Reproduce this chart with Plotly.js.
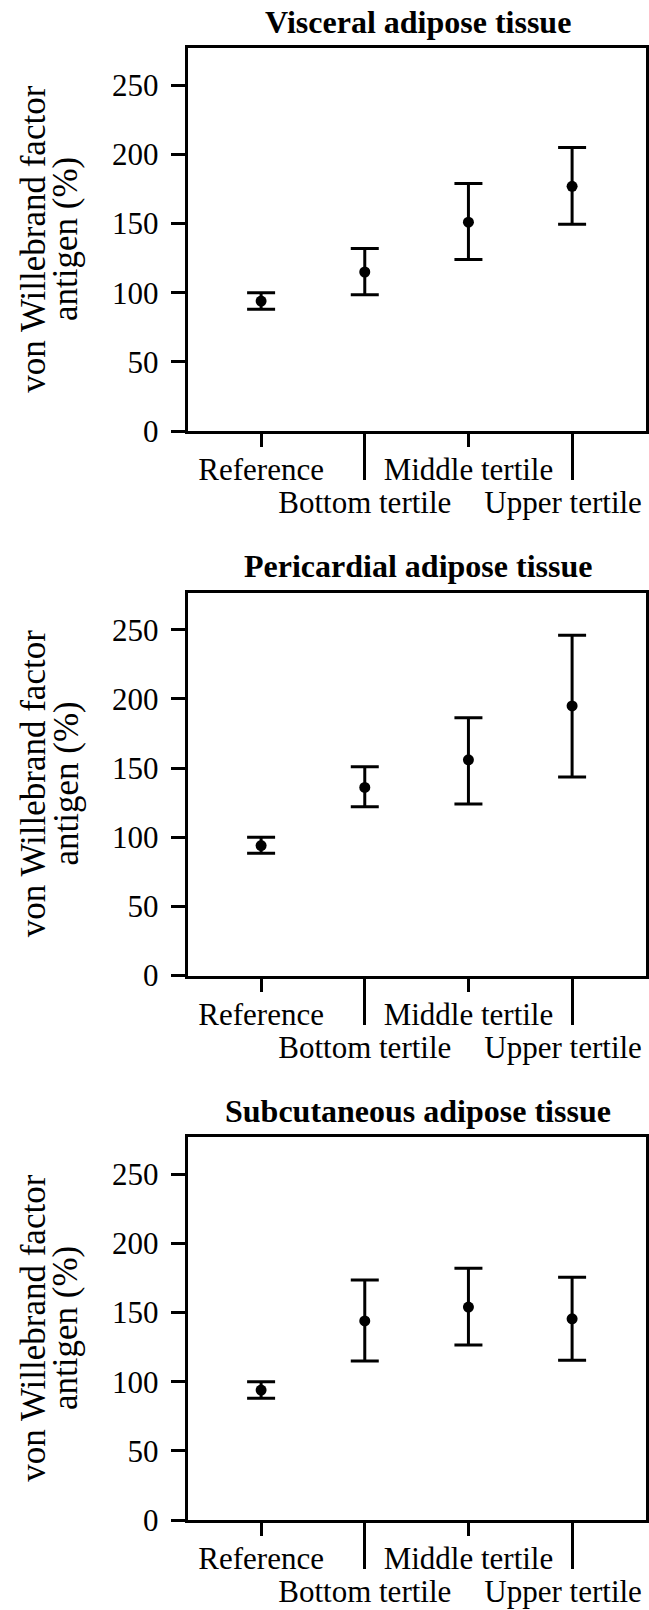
<!DOCTYPE html>
<html>
<head>
<meta charset="utf-8">
<script src="https://cdn.plot.ly/plotly-3.0.1.min.js"></script>
<style>html,body{margin:0;padding:0;background:#fff;}#chart{width:649px;height:1610px;}</style>
</head>
<body>
<div id="chart"></div>
<script>
// ---- data ----
const categories = ["Reference", "Bottom tertile", "Middle tertile", "Upper tertile"];
const panelTitles = ["Visceral adipose tissue", "Pericardial adipose tissue", "Subcutaneous adipose tissue"];
const yTitleLine1 = "von Willebrand factor";
const yTitleLine2 = "antigen (%)";
const yTickVals = [0, 50, 100, 150, 200, 250];

const visceralMean  = [94, 115, 151, 177];
const visceralUpper = [100, 132, 179, 205];
const visceralLower = [88, 98.5, 124, 149.5];

const pericardialMean  = [94, 136, 156, 195];
const pericardialUpper = [100, 151, 186.5, 246];
const pericardialLower = [88.5, 122, 124, 143.5];

const subcutaneousMean  = [94, 144, 154, 145.5];
const subcutaneousUpper = [100, 173.5, 182, 175.5];
const subcutaneousLower = [88, 115, 126.5, 115.5];

const panels = [
  {mean: visceralMean, upper: visceralUpper, lower: visceralLower},
  {mean: pericardialMean, upper: pericardialUpper, lower: pericardialLower},
  {mean: subcutaneousMean, upper: subcutaneousUpper, lower: subcutaneousLower}
];

// ---- layout geometry ----
const W = 649, H = 1610;
const pitch = 544.5, plotTop = 48, plotBottom = 431;
const xDom = [187.5 / W, 645.7 / W];
const FONT = "'Liberation Serif', 'Times New Roman', serif";
const TICK_FS = 31;

const catIdx = categories.map((c, i) => i);
const evenIdx = catIdx.filter(i => i % 2 === 0);
const oddIdx = catIdx.filter(i => i % 2 === 1);

const data = [];
const layout = {
  width: W, height: H,
  margin: {l: 0, r: 0, t: 0, b: 0},
  paper_bgcolor: "#fff", plot_bgcolor: "#fff",
  showlegend: false,
  font: {family: FONT, color: "#000", size: TICK_FS},
  annotations: []
};

let nextAxis = 4;
panels.forEach((p, k) => {
  const n = k + 1;
  const xa = "x" + (n === 1 ? "" : n);
  const ya = "y" + (n === 1 ? "" : n);
  const top = plotTop + k * pitch, bot = plotBottom + k * pitch;
  const yDom = [1 - bot / H, 1 - top / H];

  data.push({
    type: "scatter", mode: "markers",
    x: catIdx, y: p.mean,
    xaxis: xa, yaxis: ya,
    marker: {color: "#000", size: 11},
    error_y: {
      type: "data", symmetric: false,
      array: p.upper.map((u, i) => u - p.mean[i]),
      arrayminus: p.lower.map((l, i) => p.mean[i] - l),
      color: "#000", thickness: 3, width: 14
    },
    hoverinfo: "skip"
  });

  const axName = n === 1 ? "xaxis" : "xaxis" + n;
  const ayName = n === 1 ? "yaxis" : "yaxis" + n;
  layout[axName] = {
    domain: xDom, anchor: ya, range: [-0.71, 3.71],
    tickmode: "array", tickvals: evenIdx, ticktext: evenIdx.map(i => categories[i]),
    ticks: "outside", ticklen: 13, tickwidth: 3, tickcolor: "#000",
    ticklabelstandoff: -4,
    showline: true, mirror: true, linewidth: 3, linecolor: "#000",
    showgrid: false, zeroline: false,
    tickfont: {family: FONT, size: TICK_FS, color: "#000"}
  };
  // second-row labels: one overlaid axis per odd category (long ticks)
  oddIdx.forEach((ci, j) => {
    const num = nextAxis++;
    data.push({
      type: "scatter", mode: "none",
      x: catIdx, y: p.mean,
      xaxis: "x" + num, yaxis: ya, hoverinfo: "skip"
    });
    layout["xaxis" + num] = {
      overlaying: xa, anchor: ya, side: "bottom", range: [-0.71, 3.71],
      tickmode: "array", tickvals: [ci], ticktext: [categories[ci]],
      ticks: "outside", ticklen: 48, tickwidth: 3, tickcolor: "#000",
      ticklabelstandoff: -4,
      ticklabelshift: (ci === catIdx.length - 1) ? -9 : 0,
      showline: false, showgrid: false, zeroline: false,
      tickfont: {family: FONT, size: TICK_FS, color: "#000"}
    };
  });
  layout[ayName] = {
    domain: yDom, anchor: xa, range: [0, 277],
    tickmode: "array", tickvals: yTickVals, ticktext: yTickVals.map(String),
    ticks: "outside", ticklen: 13.7, tickwidth: 3, tickcolor: "#000",
    ticklabelstandoff: 6,
    showline: true, mirror: true, linewidth: 3, linecolor: "#000",
    showgrid: false, zeroline: false,
    tickfont: {family: FONT, size: TICK_FS, color: "#000"}
  };

  const yMid = (yDom[0] + yDom[1]) / 2;
  layout.annotations.push({
    xref: "paper", yref: "paper", x: 418 / W, y: 1 - (21.9 + k * pitch) / H,
    xanchor: "center", yanchor: "middle", showarrow: false,
    text: "<b>" + panelTitles[k] + "</b>",
    font: {family: FONT, size: 32, color: "#000"}
  });
  layout.annotations.push({
    xref: "paper", yref: "paper", x: 33.2 / W, y: yMid,
    xanchor: "center", yanchor: "middle", showarrow: false, textangle: -90,
    text: yTitleLine1, font: {family: FONT, size: 35, color: "#000"}
  });
  layout.annotations.push({
    xref: "paper", yref: "paper", x: 65.5 / W, y: yMid,
    xanchor: "center", yanchor: "middle", showarrow: false, textangle: -90,
    text: yTitleLine2, font: {family: FONT, size: 35, color: "#000"}
  });
});

Plotly.newPlot("chart", data, layout, {displayModeBar: false, staticPlot: true});
</script>
</body>
</html>
